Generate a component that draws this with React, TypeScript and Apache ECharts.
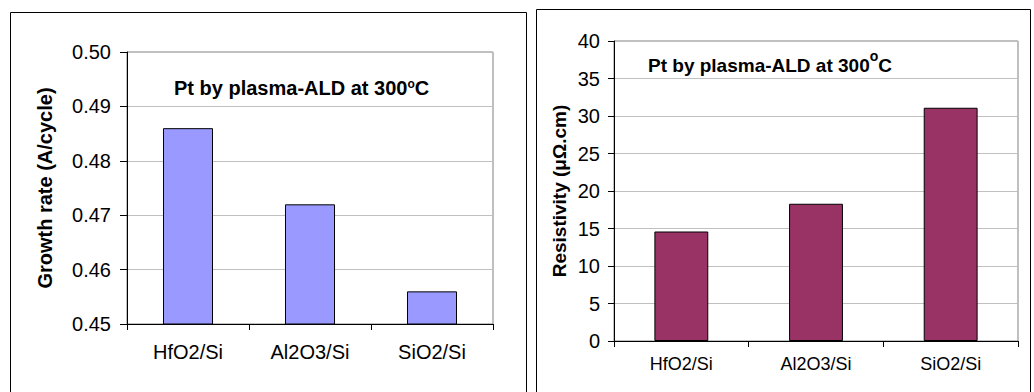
import React, { useEffect, useRef } from "react";
import * as echarts from "echarts";

// ---- data ----
const categories = ["HfO2/Si", "Al2O3/Si", "SiO2/Si"];
const growthRate = [0.486, 0.472, 0.456];
const resistivity = [14.6, 18.3, 31.1];
const growthAxis = { min: 0.45, max: 0.5, interval: 0.01 };
const resistAxis = { min: 0, max: 40, interval: 5 };
const growthTitle = "Growth rate (A/cycle)";
const resistTitle = "Resistivity (μΩ.cm)";

const FONT = '"Liberation Sans", Arial, Helvetica, sans-serif';

export default function App() {
  const ref = useRef<HTMLDivElement>(null);

  useEffect(() => {
    if (!ref.current) return;
    const chart = echarts.init(ref.current, null, { renderer: "svg" });

    const axisLineBlack = { lineStyle: { color: "#000", width: 1 } };
    const gridLine = { show: true, lineStyle: { color: "#c0c0c0", width: 1 } };

    const option: any = {
      animation: false,
      backgroundColor: "#ffffff",
      textStyle: { fontFamily: FONT, color: "#000" },
      title: [
        {
          text: "{a|Pt by plasma-ALD at 300}{s|o}{a|C}",
          left: 169,
          top: 73,
          textStyle: {
            rich: {
              a: { fontSize: 20, fontWeight: "bold", color: "#000", fontFamily: FONT, lineHeight: 20 },
              s: { fontSize: 12, fontWeight: "bold", color: "#000", fontFamily: FONT, verticalAlign: "top", lineHeight: 12 },
            },
          },
        },
        {
          text: "{a|Pt by plasma-ALD at 300}{s|o}{a|C}",
          left: 643,
          top: 44,
          textStyle: {
            rich: {
              a: { fontSize: 19, fontWeight: "bold", color: "#000", fontFamily: FONT, lineHeight: 26, verticalAlign: "bottom" },
              s: { fontSize: 14, fontWeight: "bold", color: "#000", fontFamily: FONT, verticalAlign: "top", lineHeight: 14 },
            },
          },
        },
      ],
      graphic: [
        {
          type: "rect",
          shape: { x: 10.5, y: 12.5, width: 516, height: 420 },
          style: { fill: "none", stroke: "#000", lineWidth: 1 },
          silent: true,
        },
        {
          type: "rect",
          shape: { x: 536.5, y: 9.5, width: 494, height: 420 },
          style: { fill: "none", stroke: "#000", lineWidth: 1 },
          silent: true,
        },
      ],
      grid: [
        { left: 127, top: 52, width: 366, height: 272, show: true, borderColor: "#808080", borderWidth: 1, backgroundColor: "transparent" },
        { left: 614, top: 41, width: 404, height: 300, show: true, borderColor: "#808080", borderWidth: 1, backgroundColor: "transparent" },
      ],
      xAxis: [
        {
          type: "category",
          gridIndex: 0,
          data: categories,
          axisLine: axisLineBlack,
          axisTick: { show: true, length: 6, lineStyle: { color: "#000" } },
          axisLabel: { fontSize: 20, color: "#000", margin: 18, fontFamily: FONT },
        },
        {
          type: "category",
          gridIndex: 1,
          data: categories,
          axisLine: axisLineBlack,
          axisTick: { show: true, length: 6, lineStyle: { color: "#000" } },
          axisLabel: { fontSize: 18, color: "#000", margin: 14, fontFamily: FONT },
        },
      ],
      yAxis: [
        {
          type: "value",
          gridIndex: 0,
          min: growthAxis.min,
          max: growthAxis.max,
          interval: growthAxis.interval,
          axisLine: { show: true, ...axisLineBlack },
          axisTick: { show: true, length: 7, lineStyle: { color: "#000" } },
          splitLine: gridLine,
          axisLabel: {
            fontSize: 20,
            color: "#000",
            margin: 16,
            fontFamily: FONT,
            formatter: (v: number) => v.toFixed(2),
          },
          name: growthTitle,
          nameLocation: "middle",
          nameGap: 72,
          nameTextStyle: { fontSize: 20, fontWeight: "bold", color: "#000", fontFamily: FONT },
        },
        {
          type: "value",
          gridIndex: 1,
          min: resistAxis.min,
          max: resistAxis.max,
          interval: resistAxis.interval,
          axisLine: { show: true, ...axisLineBlack },
          axisTick: { show: true, length: 6, lineStyle: { color: "#000" } },
          splitLine: gridLine,
          axisLabel: { fontSize: 20, color: "#000", margin: 14, fontFamily: FONT },
          name: resistTitle,
          nameLocation: "middle",
          nameGap: 45,
          nameTextStyle: { fontSize: 19, fontWeight: "bold", color: "#000", fontFamily: FONT },
        },
      ],
      series: [
        {
          type: "bar",
          xAxisIndex: 0,
          yAxisIndex: 0,
          data: growthRate,
          barWidth: "41%",
          itemStyle: { color: "#9999ff", borderColor: "#000", borderWidth: 1 },
        },
        {
          type: "bar",
          xAxisIndex: 1,
          yAxisIndex: 1,
          data: resistivity,
          barWidth: "40%",
          itemStyle: { color: "#993366", borderColor: "#000", borderWidth: 1 },
        },
      ],
    };

    chart.setOption(option);
    return () => chart.dispose();
  }, []);

  return (
    <div
      ref={ref}
      style={{ position: "fixed", left: 0, top: 0, width: 1034, height: 392, background: "#fff" }}
    />
  );
}
